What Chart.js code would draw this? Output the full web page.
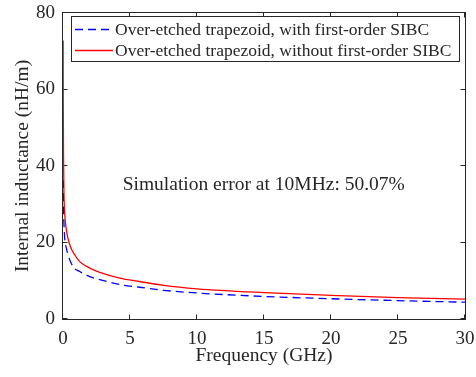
<!DOCTYPE html>
<html>
<head>
<meta charset="utf-8">
<script src="https://cdn.jsdelivr.net/npm/chart.js@4/dist/chart.umd.min.js"></script>
<style>
  html, body { margin: 0; padding: 0; background: #fff; }
  #wrap { width: 476px; height: 377px; }
</style>
</head>
<body>
<div id="wrap"><canvas id="inductanceChart" width="476" height="377"></canvas></div>
<script>
// frequency in GHz, inductance in nH/m
const freqWith = [0.01, 0.03, 0.07, 0.13, 0.25, 0.37, 0.75, 1.25, 2, 2.74, 4.23, 5.72, 7.5, 10, 15, 20, 25, 30];
const lWith = [36.3, 29, 25, 21, 18.5, 16.8, 13.7, 12.4, 11.1, 10.3, 9.0, 8.3, 7.5, 6.8, 5.9, 5.3, 4.8, 4.4];

const freqWithout = [0.01, 0.02, 0.04, 0.07, 0.12, 0.25, 0.5, 0.87, 1.25, 2, 2.74, 4.23, 5.72, 7.5, 10, 15, 20, 25, 30];
const lWithout = [72.8, 55, 42, 33, 28, 23.3, 19.4, 16.8, 15.0, 13.3, 12.2, 10.7, 9.8, 8.8, 7.9, 6.9, 6.2, 5.6, 5.2];

const seriesLabels = [
    'Over-etched trapezoid, with first-order SIBC',
    'Over-etched trapezoid, without first-order SIBC'
];
const annotationText = 'Simulation error at 10MHz: 50.07%';

const SERIF = '"Liberation Serif", "Times New Roman", serif';
const INK = '#262626';

function toPoints(xs, ys) {
    return xs.map((x, i) => ({ x: x, y: ys[i] }));
}

// stop Chart.js from reserving extra room for overhanging tick labels
function noOverhang(scale) {
    scale.paddingLeft = 0;
    scale.paddingRight = 0;
    scale.paddingTop = 0;
    scale.paddingBottom = 0;
}

// MATLAB-style box with inward ticks, legend and the text note
const matlabBox = {
    id: 'matlabBox',
    beforeDatasetsDraw(chart) {
        const ctx = chart.ctx;
        const { left, right, top, bottom } = chart.chartArea;
        const xs = chart.scales.x;
        const ys = chart.scales.y;
        const tl = 4.5;

        ctx.save();
        ctx.strokeStyle = INK;
        ctx.lineWidth = 1;
        ctx.strokeRect(Math.round(left) - 0.5, Math.round(top) - 0.5,
            Math.round(right - left) + 1, Math.round(bottom - top) + 1);

        ctx.beginPath();
        xs.ticks.forEach(t => {
            const px = Math.round(xs.getPixelForValue(t.value)) - 0.5;
            ctx.moveTo(px, bottom); ctx.lineTo(px, bottom - tl);
            ctx.moveTo(px, top); ctx.lineTo(px, top + tl);
        });
        ys.ticks.forEach(t => {
            const py = Math.round(ys.getPixelForValue(t.value)) - 0.5;
            ctx.moveTo(left, py); ctx.lineTo(left + tl, py);
            ctx.moveTo(right, py); ctx.lineTo(right - tl, py);
        });
        ctx.stroke();
        ctx.restore();
    },
    afterDatasetsDraw(chart) {
        const ctx = chart.ctx;
        const xs = chart.scales.x;
        const ys = chart.scales.y;

        ctx.save();
        // legend
        const lx = 71, ly = 16, lw = 388, lh = 45;
        ctx.fillStyle = '#fff';
        ctx.fillRect(lx, ly, lw, lh);
        ctx.strokeStyle = INK;
        ctx.lineWidth = 1;
        ctx.strokeRect(lx + 0.5, ly + 0.5, lw, lh);

        ctx.font = '17.5px ' + SERIF;
        ctx.textBaseline = 'middle';
        ctx.textAlign = 'left';
        chart.data.datasets.forEach((ds, i) => {
            const rowY = ly + 13.5 + i * 21;
            ctx.beginPath();
            ctx.strokeStyle = ds.borderColor;
            ctx.lineWidth = ds.borderWidth;
            ctx.setLineDash(ds.borderDash || []);
            ctx.moveTo(75, rowY);
            ctx.lineTo(113, rowY);
            ctx.stroke();
            ctx.setLineDash([]);
            ctx.fillStyle = INK;
            ctx.fillText(ds.label, 115, rowY + 1);
        });

        // note
        ctx.font = '19.5px ' + SERIF;
        ctx.fillStyle = INK;
        ctx.fillText(annotationText, xs.getPixelForValue(4.45), ys.getPixelForValue(35));
        ctx.restore();
    }
};

const ctx = document.getElementById('inductanceChart').getContext('2d');
const inductanceChart = new Chart(ctx, {
    type: 'line',
    data: {
        datasets: [
            {
                label: seriesLabels[0],
                data: toPoints(freqWith, lWith),
                borderColor: '#0000ff',
                borderWidth: 1.3,
                borderDash: [8, 5],
                pointRadius: 0,
                cubicInterpolationMode: 'monotone',
                fill: false
            },
            {
                label: seriesLabels[1],
                data: toPoints(freqWithout, lWithout),
                borderColor: '#ff0000',
                borderWidth: 1.3,
                pointRadius: 0,
                cubicInterpolationMode: 'monotone',
                fill: false
            }
        ]
    },
    options: {
        responsive: false,
        animation: false,
        devicePixelRatio: 1,
        layout: { padding: { left: 0, right: 11, top: 13, bottom: 0 } },
        plugins: {
            legend: { display: false },
            tooltip: { enabled: false }
        },
        scales: {
            x: {
                type: 'linear',
                min: 0,
                max: 30,
                border: { display: false },
                grid: { display: false, drawTicks: false },
                ticks: { stepSize: 5, padding: 9, color: INK, font: { family: SERIF, size: 19 } },
                title: {
                    display: true,
                    text: 'Frequency (GHz)',
                    color: INK,
                    font: { family: SERIF, size: 19.5 },
                    padding: { top: 0, bottom: 9 }
                },
                afterFit(scale) { scale.height = 58; noOverhang(scale); }
            },
            y: {
                min: 0,
                max: 80,
                border: { display: false },
                grid: { display: false, drawTicks: false },
                ticks: { stepSize: 20, padding: 8, color: INK, font: { family: SERIF, size: 19 } },
                title: {
                    display: true,
                    text: 'Internal inductance (nH/m)',
                    color: INK,
                    font: { family: SERIF, size: 19.5 },
                    padding: { top: 11, bottom: 0 }
                },
                afterFit(scale) { scale.width = 63; noOverhang(scale); }
            }
        }
    },
    plugins: [matlabBox]
});
</script>
</body>
</html>
